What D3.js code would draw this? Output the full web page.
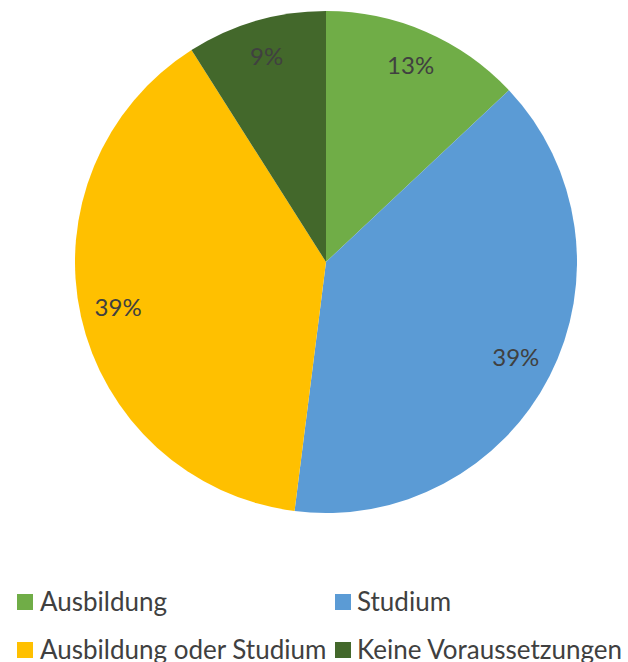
<!DOCTYPE html>
<html>
<head>
<meta charset="utf-8">
<script src="https://cdn.jsdelivr.net/npm/d3@7"></script>
<style>
  html, body { margin: 0; padding: 0; background: #fff; }
  svg { display: block; }
  text { font-family: Lato, "Open Sans", sans-serif; fill: #404040; }
</style>
</head>
<body>
<svg id="chart" width="628" height="662"></svg>
<script>
// Voraussetzungen – Anteile in Prozent
const categories = ["Ausbildung", "Studium", "Ausbildung oder Studium", "Keine Voraussetzungen"];
const values = [13, 39, 39, 9];
const colors = ["#70AD47", "#5B9BD5", "#FFC000", "#43682B"];

const svg = d3.select("#chart");
const cx = 326, cy = 262, radius = 251, labelRadius = 213;

const data = categories.map((c, i) => ({ name: c, value: values[i], color: colors[i] }));

const pie = d3.pie().sort(null).value(d => d.value);
const arc = d3.arc().innerRadius(0).outerRadius(radius);
const labelArc = d3.arc().innerRadius(labelRadius).outerRadius(labelRadius);

const g = svg.append("g").attr("transform", `translate(${cx},${cy})`);
const arcs = pie(data);

g.selectAll("path.slice")
  .data(arcs)
  .join("path")
  .attr("class", "slice")
  .attr("d", arc)
  .attr("fill", d => d.data.color);

g.selectAll("text.pct")
  .data(arcs)
  .join("text")
  .attr("class", "pct")
  .attr("transform", d => `translate(${labelArc.centroid(d)})`)
  .attr("text-anchor", "middle")
  .attr("dy", "0.3em")
  .style("font-size", "24px")
  .text(d => d.data.value + "%");

// Legende in zwei Zeilen mit zwei Spalten
const legendPos = [
  { x: 17, y: 602 },
  { x: 335, y: 602 },
  { x: 17, y: 650 },
  { x: 335, y: 650 }
];
const legend = svg.selectAll("g.legend")
  .data(data)
  .join("g")
  .attr("class", "legend")
  .attr("transform", (d, i) => `translate(${legendPos[i].x},${legendPos[i].y})`);

legend.append("rect")
  .attr("x", 0).attr("y", -8)
  .attr("width", 16).attr("height", 16)
  .attr("fill", d => d.color);

legend.append("text")
  .attr("x", (d, i) => i % 2 === 0 ? 23 : 22)
  .attr("y", 9)
  .style("font-size", "26px")
  .text(d => d.name);
</script>
</body>
</html>
